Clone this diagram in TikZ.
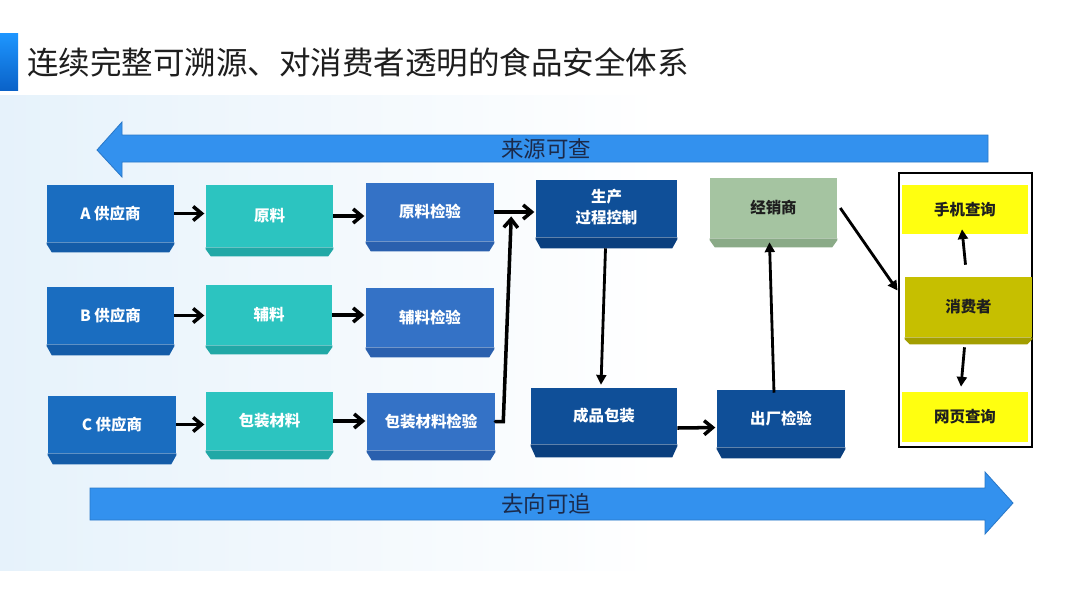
\documentclass[tikz,border=0pt]{standalone}
\usepackage{fontspec}
\setmainfont{Noto Sans CJK SC}
\usetikzlibrary{calc,fit,arrows.meta}
\definecolor{supc}{HTML}{1A6DC0}
\definecolor{supd}{HTML}{145CA8}
\definecolor{matc}{HTML}{2CC4C0}
\definecolor{matd}{HTML}{21A8A6}
\definecolor{insc}{HTML}{3472C6}
\definecolor{insd}{HTML}{2A60AE}
\definecolor{proc}{HTML}{0F4F98}
\definecolor{prod}{HTML}{0A3F7E}
\definecolor{disc}{HTML}{A5C4A1}
\definecolor{disd}{HTML}{8AAA87}
\definecolor{conc}{HTML}{C6BF00}
\definecolor{cond}{HTML}{A39E00}
\definecolor{yelc}{HTML}{FFFF10}
\definecolor{bigc}{HTML}{3391EE}
\definecolor{bigedge}{HTML}{2A78C8}
\definecolor{bigtext}{HTML}{1B2A4A}
\definecolor{bgblue}{HTML}{E6F2FB}
\definecolor{bartop}{HTML}{1E96FF}
\definecolor{barbot}{HTML}{0A62C8}
\definecolor{darktext}{HTML}{1E1E1E}

\newcommand\prismbox[8]{%
  \node[boxbase,#7, fit={(#2,#3)(#4,#5)}] (#1) {};
  \fill[#7 strip] (#1.south west) -- ++(0,2) -- ++(5,#6-2) -- ($(#1.south east)+(-5,#6)$) -- ++(5,2-#6) -- (#1.south east) -- cycle;
  \node[boxbase,#7,fill=none] (#1-t) at (#1.center) {#8};}

\tikzset{
  boxbase/.style={inner sep=0pt, draw=none, text=white,
    font=\bfseries\fontsize{11}{15}\selectfont},
  sup/.style={fill=supc}, sup strip/.style={fill=supd},
  mat/.style={fill=matc}, mat strip/.style={fill=matd},
  ins/.style={fill=insc}, ins strip/.style={fill=insd},
  pro/.style={fill=proc}, pro strip/.style={fill=prod},
  dis/.style={fill=disc, text=darktext}, dis strip/.style={fill=disd},
  con/.style={fill=conc, text=darktext}, con strip/.style={fill=cond},
  yel/.style={inner sep=0pt, fill=yelc, text=darktext, font=\bfseries\fontsize{11}{15}\selectfont},
  harrow/.style={line width=2.5pt, -{Straight Barb[length=6pt,width=10pt]}, shorten >=1pt},
  varrow/.style={line width=2pt, -{Triangle[length=7pt,width=7pt]}},
  bigarrow/.style={fill=bigc, draw=bigedge, line width=0.6pt},
  bigtxt/.style={text=bigtext, font=\fontsize{16}{18}\selectfont, inner sep=0pt}
}

\begin{document}
\begin{tikzpicture}[x=0.025cm,y=-0.025cm]
\useasboundingbox (0,0) rectangle (1080,608);
\fill[white] (0,0) rectangle (1080,608);
% background tint
\shade[left color=bgblue, right color=white] (0,95) -- (660,95) -- (660,570) -- (0,570) -- cycle;
% title
\shade[top color=bartop, bottom color=barbot] (0,33) rectangle (18,90);
\node[anchor=west, inner sep=0pt, text=darktext, font=\fontsize{22.4}{26}\selectfont] (title) at (27,62) {连续完整可溯源、对消费者透明的食品安全体系};

% big arrows
\fill[bigarrow] (988,135) -- (122,135) -- (122,122) -- (97,150) -- (122,177) -- (122,162) -- (988,162) -- cycle;
\node[bigtxt] (src) at (546,149) {来源可查};
\fill[bigarrow] (90,488) -- (985,488) -- (985,472) -- (1013,503) -- (985,534) -- (985,520) -- (90,520) -- cycle;
\node[bigtxt] (dst) at (546,504) {去向可追};

% boxes
\prismbox{asup}{47}{185}{174}{242}{10}{sup}{A 供应商}
\prismbox{yl}{206}{185}{333}{247}{9}{mat}{原料}
\prismbox{ylj}{366}{183}{494}{241}{10}{ins}{原料检验}
\prismbox{bsup}{47}{287}{174}{344}{11}{sup}{B 供应商}
\prismbox{fl}{206}{285}{332}{345}{9}{mat}{辅料}
\prismbox{flj}{366}{288}{494}{347}{10}{ins}{辅料检验}
\prismbox{csup}{48}{396}{176}{453}{11}{sup}{C 供应商}
\prismbox{bz}{206}{392}{333}{450}{9}{mat}{包装材料}
\prismbox{bzj}{367}{393}{495}{450}{10}{ins}{包装材料检验}
\prismbox{scp}{536}{180}{677}{237}{11}{pro}{\begin{tabular}{@{}c@{}}生产\\过程控制\end{tabular}}
\prismbox{jxs}{710}{178}{837}{238}{9}{dis}{经销商}
\prismbox{cpbz}{531}{388}{677}{444}{13}{pro}{成品包装}
\prismbox{cc}{717}{390}{845}{447}{11}{pro}{出厂检验}

% consumer container
\node[fit={(899,173)(1032,447)}, draw=black, line width=2pt, fill=white, inner sep=0pt] (cbox) {};
\node[yel, fit={(902,185)(1028,234)}] (sjcx) {};
\node[yel, fill=none] (sjcx-t) at (sjcx.center) {手机查询};
\node[yel, fit={(902,392)(1028,442)}] (wycx) {};
\node[yel, fill=none] (wycx-t) at (wycx.center) {网页查询};
\prismbox{xfz}{905}{277}{1032}{337}{7}{con}{消费者}

% connectors
\draw[harrow] (asup.east) -- (asup.east -| yl.west);
\draw[harrow] (yl.east) -- (yl.east -| ylj.west);
\draw[harrow] (bsup.east) -- (bsup.east -| fl.west);
\draw[harrow] (fl.east) -- (fl.east -| flj.west);
\draw[harrow] (csup.east) -- (csup.east -| bz.west);
\draw[harrow] (bz.east) -- (bz.east -| bzj.west);
\draw[harrow] (ylj.east) -- (ylj.east -| scp.west);
\draw[harrow, line cap=round] (bzj.east) -- ++(8,0) -- ($(ylj.east)+(17,3)$);
\draw[varrow] ($(scp.south)+(-1,11)$) -- ($(cpbz.north)+(-3,-3)$);
\draw[harrow] ($(cpbz.east)+(0,12)$) -- ($(cc.west)+(0,9)$);
\draw[varrow] ($(cc.north)+(-7,3)$) -- ($(jxs.south)+(-4,4)$);
\draw[varrow] ($(jxs.east)+(3,0)$) -- ($(cbox.north west)!0.43!(cbox.south west)$);
\draw[varrow] ($(xfz.north)+(-3,-12)$) -- ($(sjcx.south)+(-3,-5)$);
\draw[varrow] ($(xfz.south)+(-4,10)$) -- ($(wycx.north)+(-4,-5)$);
\end{tikzpicture}
\end{document}
